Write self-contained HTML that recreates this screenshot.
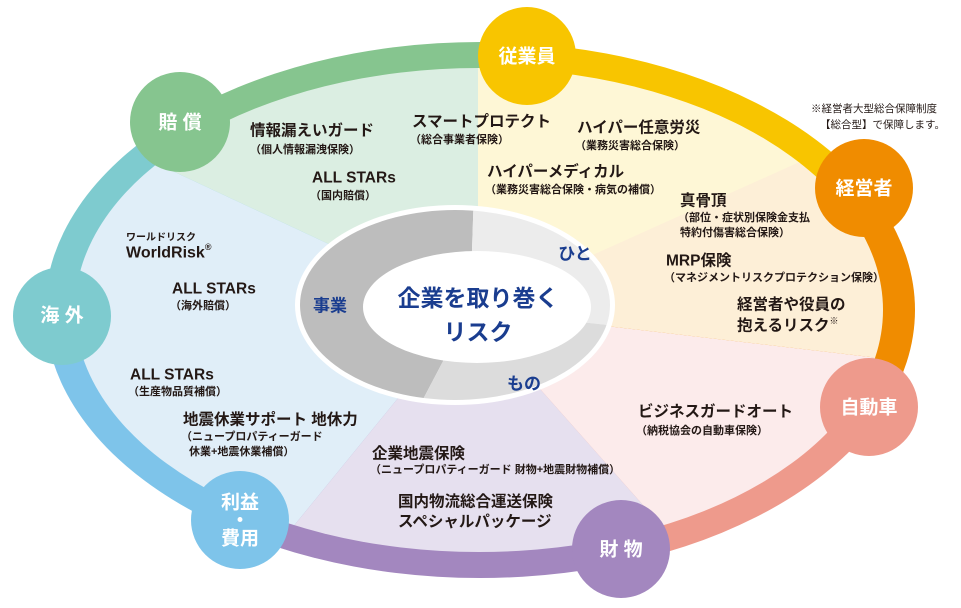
<!DOCTYPE html>
<html><head><meta charset="utf-8"><style>
html,body{margin:0;padding:0;background:#fff;width:961px;height:608px;overflow:hidden;}
svg{display:block;}
text{font-family:"Liberation Sans","Noto Sans CJK JP",sans-serif;font-weight:bold;}
.t{fill:#231815;font-size:15.5px;}
.s{fill:#231815;font-size:11px;}
.c{fill:#fff;font-size:19px;text-anchor:middle;}
.n{fill:#1a3d8f;}
</style></head><body>
<svg width="961" height="608" viewBox="0 0 961 608" xmlns="http://www.w3.org/2000/svg">
<defs>
<clipPath id="outer"><ellipse cx="480" cy="310" rx="435" ry="268"/></clipPath>
<clipPath id="inner"><ellipse cx="479" cy="310" rx="404" ry="242"/></clipPath>
<clipPath id="donut"><ellipse cx="455" cy="305" rx="155" ry="95"/></clipPath>
</defs>
<g clip-path="url(#outer)">
<polygon fill="#86c58f" points="480,310 -420,-254 621,-452"/>
<polygon fill="#f8c500" points="480,310 621,-452 1632,-56"/>
<polygon fill="#f08c00" points="480,310 1632,-56 1647,601"/>
<polygon fill="#ee9a8c" points="480,310 1647,601 903,1027"/>
<polygon fill="#a387bf" points="480,310 903,1027 -240,940"/>
<polygon fill="#7ec4ea" points="480,310 -240,940 -774,322"/>
<polygon fill="#7ecbcf" points="480,310 -774,322 -420,-254"/>
</g>
<g clip-path="url(#inner)">
<polygon fill="#dbeee2" points="470,310 -123,33 -123,-60 478,-60 478,310"/>
<polygon fill="#fef7d6" points="478,310 478,-60 1100,-60 1000,72"/>
<polygon fill="#fdefd7" points="470,310 1000,72 1100,-60 1100,384"/>
<polygon fill="#fcebeb" points="470,310 1100,384 1100,700 800,682"/>
<polygon fill="#e6e0ef" points="470,310 800,682 150,702"/>
<polygon fill="#e0eef8" points="470,310 150,702 -150,702 -150,33 -123,33"/>
</g>
<ellipse cx="455" cy="305" rx="160" ry="100" fill="#fff"/>
<g clip-path="url(#donut)">
<polygon fill="#bdbdbd" points="470,310 477,100 200,100 200,500 370,500"/>
<polygon fill="#ececec" points="470,310 477,100 700,100 700,335"/>
<polygon fill="#dcdcdc" points="470,310 700,335 700,500 370,500"/>
</g>
<ellipse cx="477" cy="307" rx="114" ry="56" fill="#fff"/>
<text class="n" x="330" y="306" font-size="17" text-anchor="middle" dominant-baseline="central">事業</text>
<text class="n" x="575" y="254" font-size="17" text-anchor="middle" dominant-baseline="central">ひと</text>
<text class="n" x="524" y="384" font-size="17" text-anchor="middle" dominant-baseline="central">もの</text>
<text class="n" x="478" y="298" font-size="23" text-anchor="middle" dominant-baseline="central">企業を取り巻く</text>
<text class="n" x="478" y="332" font-size="23" text-anchor="middle" dominant-baseline="central">リスク</text>
<circle cx="180" cy="122" r="50" fill="#86c58f"/>
<circle cx="527" cy="56" r="49" fill="#f8c500"/>
<circle cx="864" cy="188" r="49" fill="#f08c00"/>
<circle cx="869" cy="407" r="49" fill="#ee9a8c"/>
<circle cx="621" cy="549" r="49" fill="#a387bf"/>
<circle cx="240" cy="520" r="49" fill="#7ec4ea"/>
<circle cx="62" cy="316" r="49" fill="#7ecbcf"/>
<g dominant-baseline="central">
<text class="c" x="180" y="123">賠 償</text>
<text class="c" x="527" y="57">従業員</text>
<text class="c" x="864" y="189">経営者</text>
<text class="c" x="869" y="408">自動車</text>
<text class="c" x="621" y="550">財 物</text>
<text class="c" x="62" y="316">海 外</text>
<text class="c" x="240" y="503">利益</text>
<text class="c" x="240" y="521" font-size="12">・</text>
<text class="c" x="240" y="539">費用</text>
<text class="t" x="250" y="131">情報漏えいガード</text>
<text class="s" x="250" y="150">（個人情報漏洩保険）</text>
<text class="t" x="412" y="122">スマートプロテクト</text>
<text class="s" x="410" y="140">（総合事業者保険）</text>
<text class="t" x="312" y="178">ALL STARs</text>
<text class="s" x="310" y="196">（国内賠償）</text>
<text class="t" x="577" y="128">ハイパー任意労災</text>
<text class="s" x="575" y="146">（業務災害総合保険）</text>
<text class="t" x="487" y="172">ハイパーメディカル</text>
<text class="s" x="485" y="190">（業務災害総合保険・病気の補償）</text>
<text class="t" x="680" y="201">真骨頂</text>
<text class="s" x="678" y="218">（部位・症状別保険金支払</text>
<text class="s" x="680" y="233">特約付傷害総合保険）</text>
<text class="t" x="666" y="261">MRP保険</text>
<text class="s" x="664" y="278">（マネジメントリスクプロテクション保険）</text>
<text class="t" x="737" y="305" font-size="16">経営者や役員の</text>
<text class="t" x="737" y="326" font-size="16">抱えるリスク<tspan font-size="9" dy="-5">※</tspan></text>
<text x="811" y="109" font-size="10.5" fill="#231815" style="font-weight:normal">※経営者大型総合保障制度</text>
<text x="820" y="125" font-size="10.5" fill="#231815" style="font-weight:normal">【総合型】で保障します。</text>
<text x="126" y="238" font-size="10" fill="#231815">ワールドリスク</text>
<text x="126" y="253" font-size="16" fill="#231815">WorldRisk<tspan font-size="9" dy="-6">®</tspan></text>
<text class="t" x="172" y="289">ALL STARs</text>
<text class="s" x="170" y="306">（海外賠償）</text>
<text class="t" x="130" y="375">ALL STARs</text>
<text class="s" x="128" y="392">（生産物品質補償）</text>
<text class="t" x="183" y="420">地震休業サポート 地休力</text>
<text class="s" x="181" y="437">（ニュープロパティーガード</text>
<text class="s" x="189" y="452">休業+地震休業補償）</text>
<text class="t" x="372" y="454">企業地震保険</text>
<text class="s" x="370" y="470">（ニュープロパティーガード 財物+地震財物補償）</text>
<text class="t" x="398" y="502">国内物流総合運送保険</text>
<text class="t" x="398" y="522">スペシャルパッケージ</text>
<text class="t" x="638" y="412">ビジネスガードオート</text>
<text class="s" x="636" y="431">（納税協会の自動車保険）</text>
</g>
</svg>
</body></html>
